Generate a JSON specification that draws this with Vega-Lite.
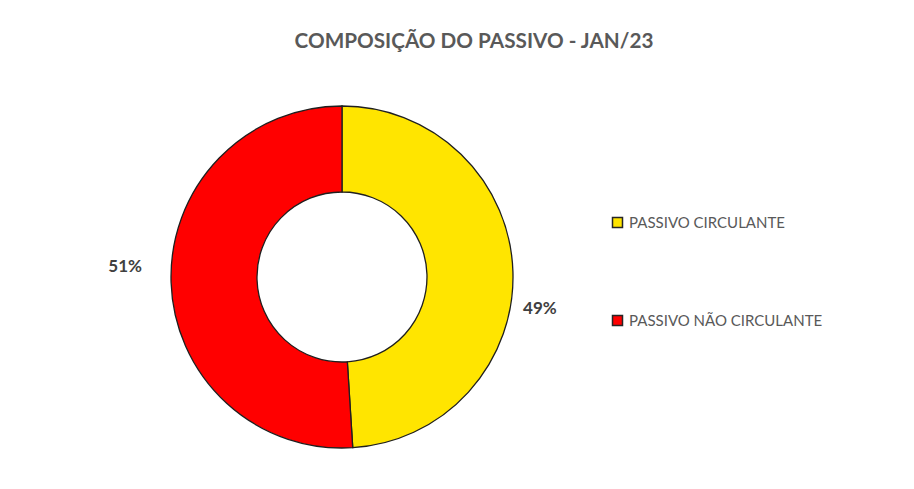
{
  "$schema": "https://vega.github.io/schema/vega-lite/v6.json",
  "autosize": {"type": "pad"},
  "padding": {"left": 9, "top": 31, "right": 0, "bottom": 0},
  "width": 666,
  "height": 424,
  "background": "white",
  "title": {
    "text": "COMPOSIÇÃO DO PASSIVO - JAN/23",
    "font": "Lato", "fontSize": 20.7, "fontWeight": "bold", "color": "#595959",
    "anchor": "middle", "frame": "group", "dx": 132, "offset": 12
  },
  "data": {
    "values": [
      {"categoria": "PASSIVO CIRCULANTE", "valor": 0.49},
      {"categoria": "PASSIVO NÃO CIRCULANTE", "valor": 0.51}
    ]
  },
  "encoding": {
    "theta": {"field": "valor", "type": "quantitative", "stack": true},
    "color": {
      "field": "categoria", "type": "nominal",
      "scale": {"domain": ["PASSIVO CIRCULANTE", "PASSIVO NÃO CIRCULANTE"], "range": ["#FFE500", "#FF0000"]},
      "legend": {
        "title": null, "orient": "none", "legendX": 601, "legendY": 150,
        "symbolType": "square", "symbolSize": 100, "symbolStrokeColor": "#262626", "symbolStrokeWidth": 1.5,
        "labelFont": "Lato", "labelFontSize": 15, "labelColor": "#595959", "labelOffset": 4, "labelLimit": 400,
        "rowPadding": 81, "padding": 0
      }
    }
  },
  "layer": [
    {
      "mark": {"type": "arc", "outerRadius": 171, "innerRadius": 85, "stroke": "#1f1f1f", "strokeWidth": 1.3}
    },
    {
      "mark": {"type": "text", "font": "Lato", "fontSize": 17, "fontWeight": "bold", "dy": -17},
      "encoding": {
        "radius": {"value": 217},
        "color": {"value": "#404040"},
        "text": {"condition": {"test": "datum.categoria == 'PASSIVO NÃO CIRCULANTE'", "field": "valor", "type": "quantitative", "format": ".0%"}, "value": ""}
      }
    },
    {
      "mark": {"type": "text", "font": "Lato", "fontSize": 17, "fontWeight": "bold", "dy": 38},
      "encoding": {
        "radius": {"value": 198},
        "color": {"value": "#404040"},
        "text": {"condition": {"test": "datum.categoria == 'PASSIVO CIRCULANTE'", "field": "valor", "type": "quantitative", "format": ".0%"}, "value": ""}
      }
    }
  ],
  "config": {"view": {"stroke": null}}
}
